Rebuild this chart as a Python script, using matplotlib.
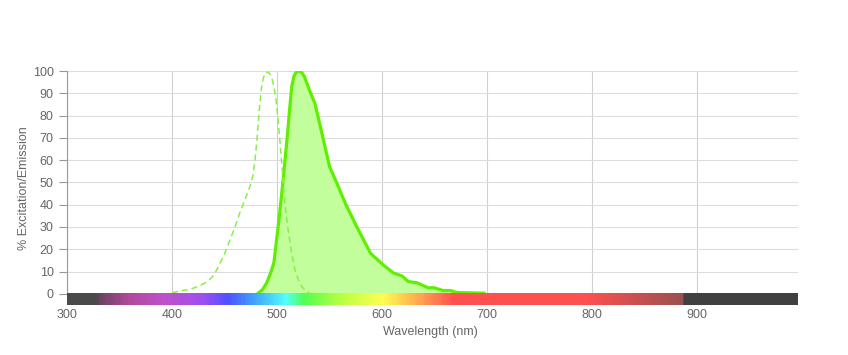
import numpy as np
import matplotlib
matplotlib.use("Agg")
import matplotlib.pyplot as plt
from matplotlib.colors import LinearSegmentedColormap

plt.rcParams['font.family'] = ['Liberation Sans', 'DejaVu Sans']

# excitation spectrum (dashed)
ex_wl = [400, 405, 410, 415, 420, 425, 430, 435, 440, 445, 450, 455, 460, 465, 470,
         474, 477, 479, 481, 483, 485, 487, 489, 491, 493, 495, 497, 499, 501, 503,
         505, 508, 511, 514, 517, 520, 524, 528, 532]
ex_val = [0.5, 1.0, 1.5, 1.8, 2.5, 3.5, 4.5, 6, 8.5, 13, 18, 24, 30, 37, 43,
          48, 53, 60, 70, 82, 92, 97, 99.3, 99.5, 98.8, 97, 93, 87, 78, 67,
          55, 38, 27, 18, 11, 6.5, 3, 1, 0]

# emission spectrum (solid, filled)
em_wl = [482, 486, 490, 494, 497, 501, 504, 507, 510, 512, 514, 516, 518, 520, 522,
         524, 526, 528, 532, 536, 542, 550, 557, 565, 576, 589, 601, 611, 619, 625,
         633, 644, 649, 658, 665, 671, 697]
em_val = [0.3, 1.8, 4.8, 9.5, 14, 30, 43, 57, 72, 83, 93, 97.5, 99.3, 100, 99.8,
          99, 97.5, 95, 90, 85.5, 73.5, 57, 49.6, 40.6, 30, 18.2, 13, 9.3, 8, 5.5,
          5, 2.7, 2.8, 1.5, 1.5, 0.6, 0.3]

x_ticks = [300, 400, 500, 600, 700, 800, 900]
y_ticks = [0, 10, 20, 30, 40, 50, 60, 70, 80, 90, 100]

# spectrum colour band stops (wavelength, colour)
band_stops = [(300, '#4a4a4a'), (327, '#4a4a4a'), (329, '#6a4460'), (357, '#b04a9a'),
              (388, '#c050c8'), (427, '#a050f0'), (452, '#5050ff'), (471, '#4090ff'),
              (508, '#50ffff'), (525, '#50ff50'), (560, '#b8ff40'), (600, '#ffff50'),
              (625, '#ffc050'), (650, '#ff8050'), (668, '#ff5050'), (795, '#ff5050'),
              (887, '#9a5050'), (889, '#404040'), (996, '#404040')]

xmin, xmax = 300, 996

fig = plt.figure(figsize=(8.48, 3.55), dpi=100)
ax = fig.add_axes([67 / 848, 1 - 305 / 355, 731 / 848, 234 / 355])

ax.fill_between(em_wl, em_val, 0, color='#c2ff9c', zorder=2, linewidth=0)
ax.plot(em_wl, em_val, color='#5ef000', linewidth=2.3, zorder=3, solid_joinstyle='round')
ax.plot(ex_wl, ex_val, color='#88f04a', linewidth=1.1, linestyle=(0, (4, 2.5)), zorder=3)

cmap = LinearSegmentedColormap.from_list(
    'band', [((w - xmin) / (xmax - xmin), c) for w, c in band_stops])
grad = np.linspace(0, 1, 600).reshape(1, -1)
ax.imshow(grad, cmap=cmap, aspect='auto', extent=[xmin, xmax, -5, 0], zorder=5)

ax.set_xlim(xmin, xmax)
ax.set_ylim(-5, 100)
ax.set_xticks(x_ticks)
ax.set_yticks(y_ticks)
ax.grid(True, color='#dddddd', linewidth=0.8, zorder=0)
for gl in ax.get_xgridlines():
    gl.set_color('#d0d0d0')
ax.set_axisbelow(True)

for s in ['top', 'right', 'bottom']:
    ax.spines[s].set_visible(False)
ax.spines['left'].set_color('#999999')
ax.spines['left'].set_bounds(0, 100)
ax.tick_params(axis='y', colors='#999999', labelcolor='#666666', labelsize=9, length=6, width=0.8)
ax.tick_params(axis='x', length=0, labelcolor='#666666', labelsize=9, pad=3)

ax.set_xlabel('Wavelength (nm)', color='#666666', fontsize=9)
ax.set_ylabel('% Excitation/Emission', color='#666666', fontsize=9)
ax.yaxis.set_label_coords(-0.051, 0.5)
ax.xaxis.set_label_coords(0.497, -0.09)

fig.savefig('out.png', dpi=100)
